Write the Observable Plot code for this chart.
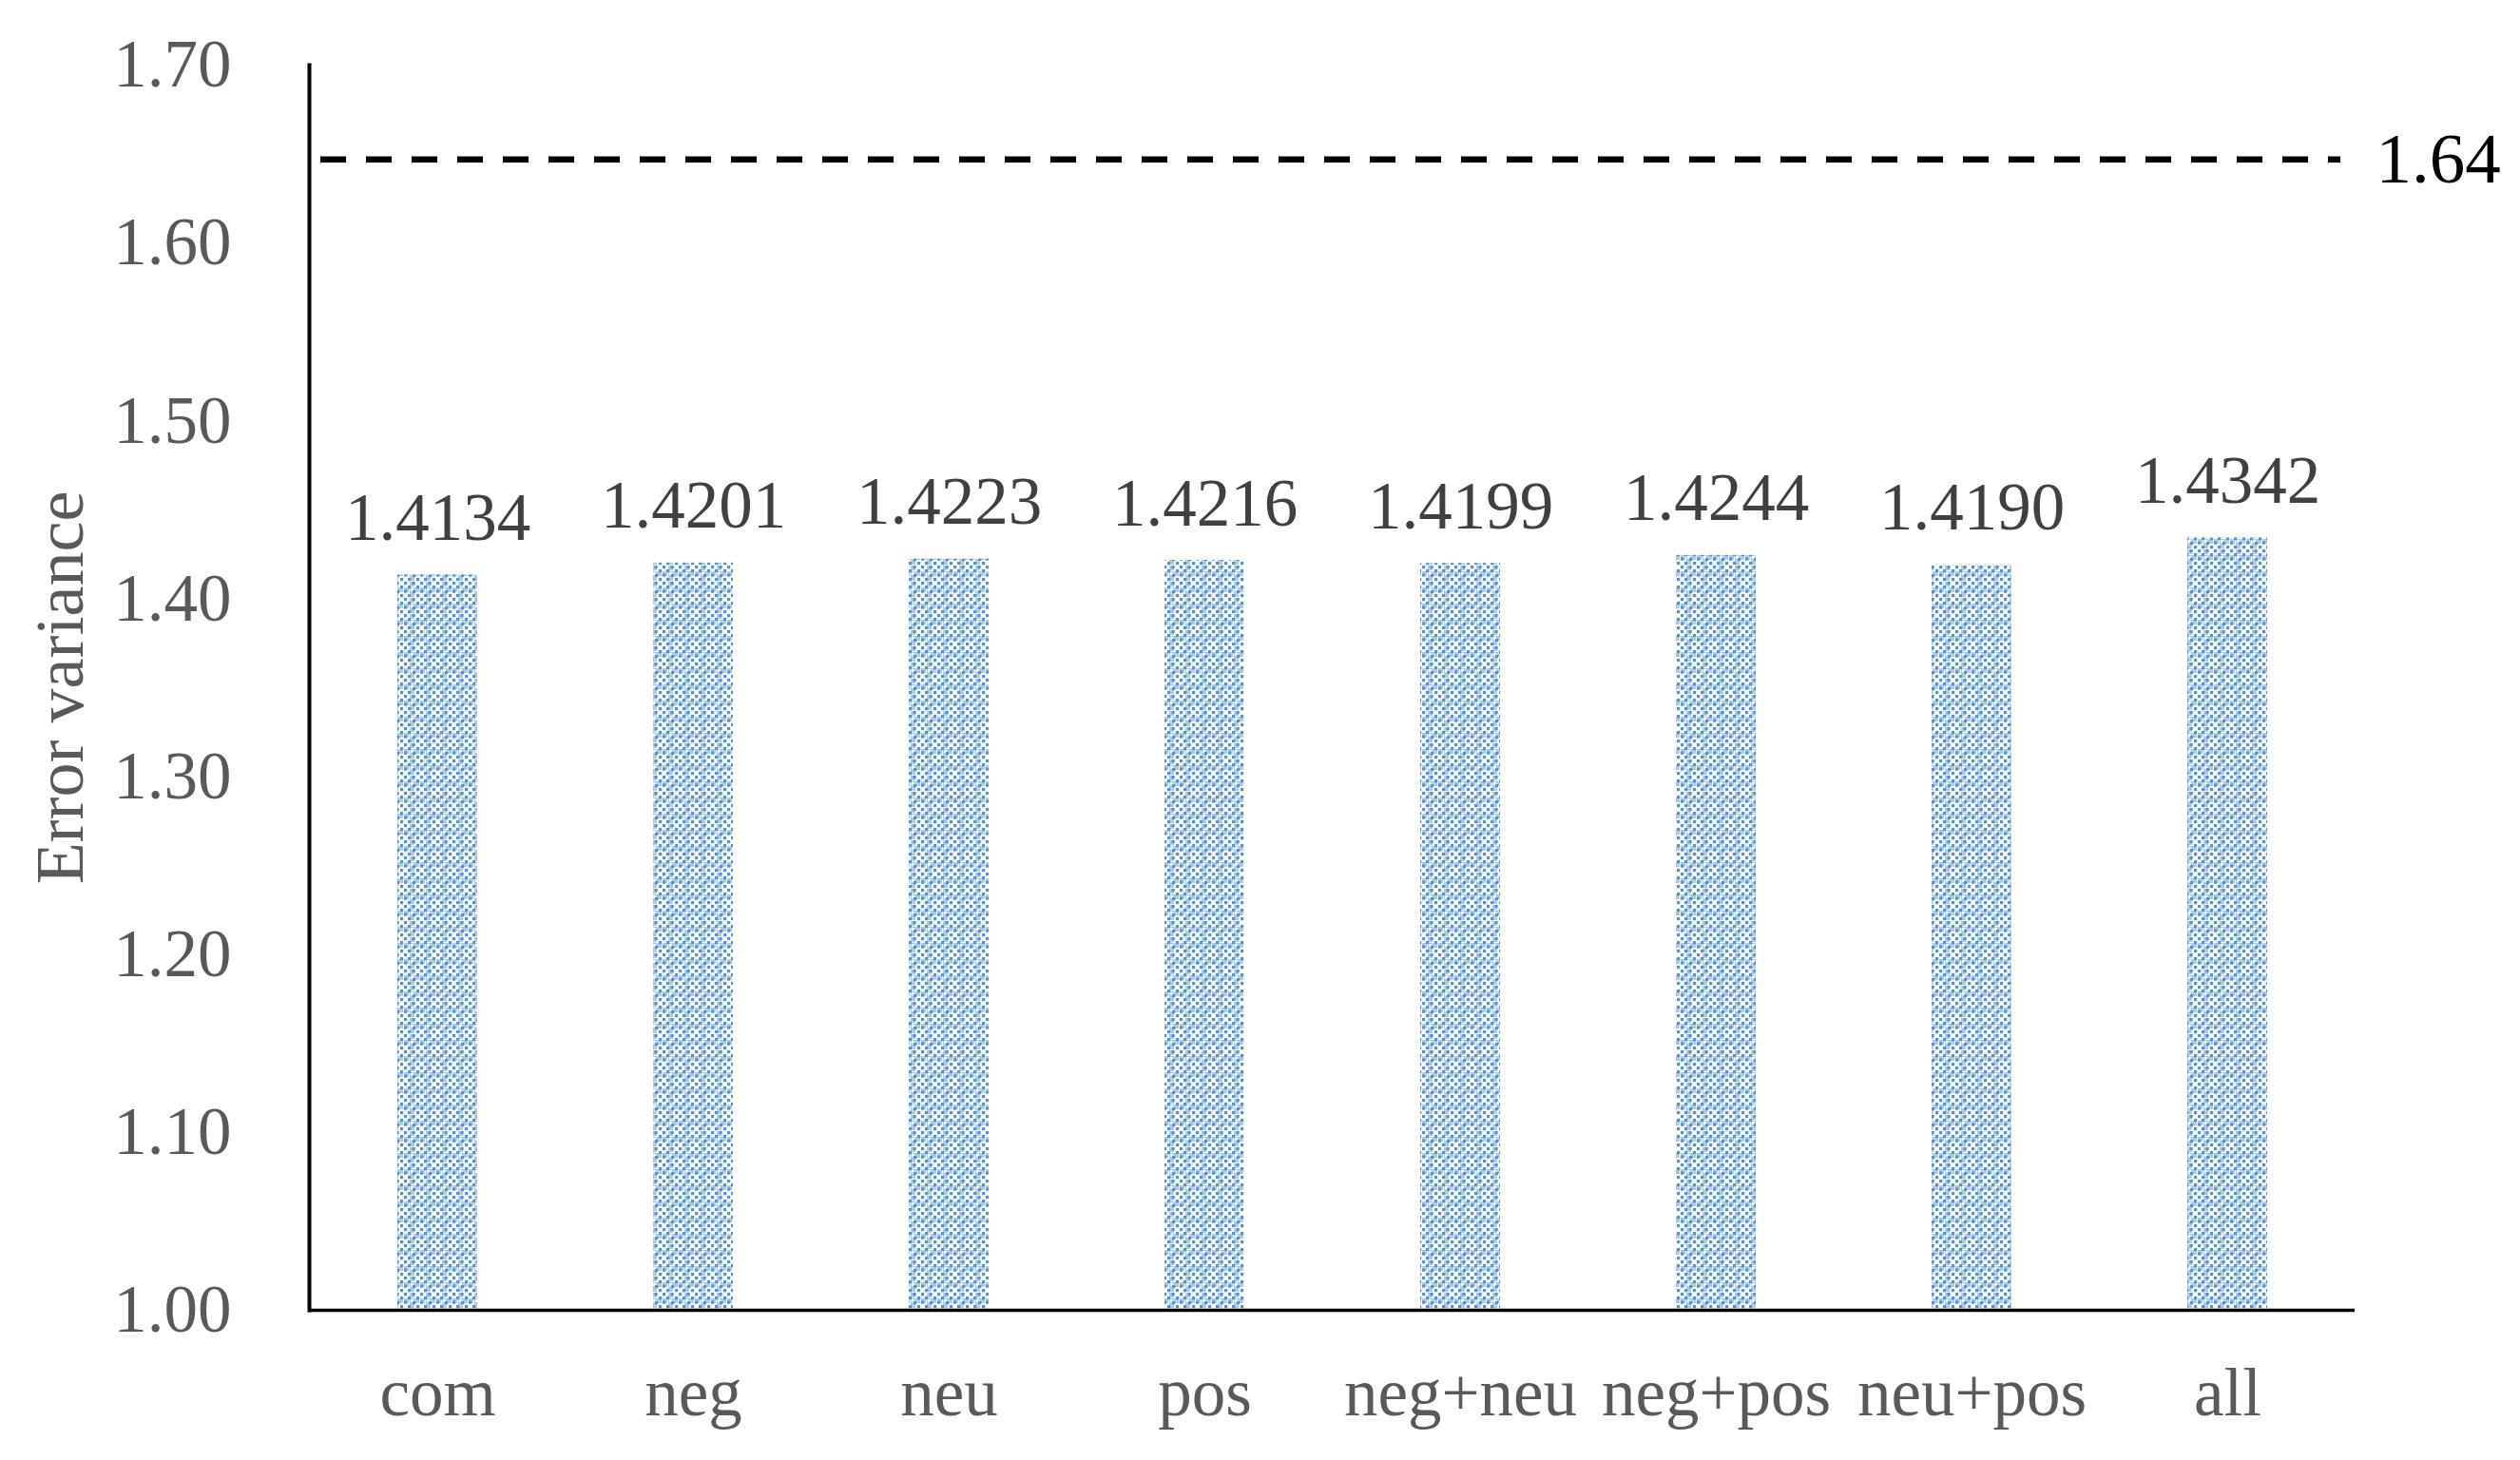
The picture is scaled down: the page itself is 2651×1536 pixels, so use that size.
<!DOCTYPE html>
<html>
<head>
<meta charset="utf-8">
<script src="https://cdn.jsdelivr.net/npm/d3@7"></script>
<script src="https://cdn.jsdelivr.net/npm/@observablehq/plot@0.6"></script>
<style>
  html, body { margin: 0; padding: 0; background: #fff; }
  #chart svg { display: block; }
</style>
</head>
<body>
<div id="chart"></div>
<script>
const categories = ["com", "neg", "neu", "pos", "neg+neu", "neg+pos", "neu+pos", "all"];
const values = [1.4134, 1.4201, 1.4223, 1.4216, 1.4199, 1.4244, 1.4190, 1.4342];
const valueLabels = ["1.4134", "1.4201", "1.4223", "1.4216", "1.4199", "1.4244", "1.4190", "1.4342"];
const yTicks = [1.00, 1.10, 1.20, 1.30, 1.40, 1.50, 1.60, 1.70];
const thresholdValue = 1.647;
const thresholdLabel = "1.64";
const yLabel = "Error variance";

const data = categories.map((c, i) => ({cat: c, value: values[i], label: valueLabels[i]}));

const FONT = "'Liberation Serif', 'Times New Roman', serif";

const plot = Plot.plot({
  width: 2651,
  height: 1536,
  marginLeft: 325,
  marginRight: 174,
  marginTop: 68,
  marginBottom: 158,
  style: {fontFamily: FONT, background: "#fff", overflow: "visible"},
  x: {domain: categories, paddingInner: 0.688, paddingOuter: 0.344, label: null},
  y: {domain: [1.0, 1.7], label: null},
  marks: [
    Plot.barY(data, {x: "cat", y1: 1.0, y2: "value", fill: "url(#excelPattern)"}),
    Plot.text(data, {x: "cat", y: "value", text: "label", dy: -37, lineAnchor: "bottom",
      fill: "#404040", fontSize: 71, fontFamily: FONT}),
    Plot.ruleY([thresholdValue], {stroke: "#000", strokeWidth: 6.5, strokeDasharray: "27,21",
      insetLeft: 12, insetRight: 15}),
    Plot.text([thresholdValue], {y: d => d, text: () => thresholdLabel, frameAnchor: "right",
      textAnchor: "start", dx: 22, fill: "#000", fontSize: 75, fontFamily: FONT}),
    Plot.axisY({ticks: yTicks, tickFormat: d3.format(".2f"), tickSize: 0, tickPadding: 82,
      fontSize: 71, color: "#595959", label: yLabel, labelAnchor: "center", labelArrow: "none",
      labelOffset: 290}),
    Plot.axisX({tickSize: 0, tickPadding: 60, fontSize: 71, color: "#595959", label: null}),
    Plot.ruleY([1.0], {stroke: "#000", strokeWidth: 3.5}),
    Plot.frame({anchor: "left", stroke: "#000", strokeWidth: 4})
  ]
});

// Pattern definition (style only)
const svg = d3.select(plot);
const defs = svg.insert("defs", ":first-child");
const pat = defs.append("pattern")
  .attr("id", "excelPattern")
  .attr("patternUnits", "userSpaceOnUse")
  .attr("width", 17).attr("height", 17);
pat.append("rect").attr("width", 17).attr("height", 17).attr("fill", "#ffffff");
// light blue blocks
[[6, 0], [0, 6], [11, 6], [6, 11], [6, 6]].forEach(([x, y]) => {
  pat.append("rect").attr("x", x).attr("y", y).attr("width", 5).attr("height", 5).attr("fill", "#aecdec");
});
// white cross centres
pat.append("rect").attr("x", 7).attr("y", 7).attr("width", 3).attr("height", 3).attr("fill", "#ffffff");
// dark blue dots on diagonal lattice
[[0, 0], [4, 4], [9, 9], [13, 13], [13, 4], [4, 13], [8.5, 0], [0, 8.5]].forEach(([x, y]) => {
  pat.append("rect").attr("x", x).attr("y", y).attr("width", 3.2).attr("height", 3.2).attr("fill", "#4f93d3");
});
svg.selectAll("[aria-label='y-axis label'] text").attr("font-size", 72).attr("fill", "#595959");

document.getElementById("chart").appendChild(plot);
</script>
</body>
</html>
